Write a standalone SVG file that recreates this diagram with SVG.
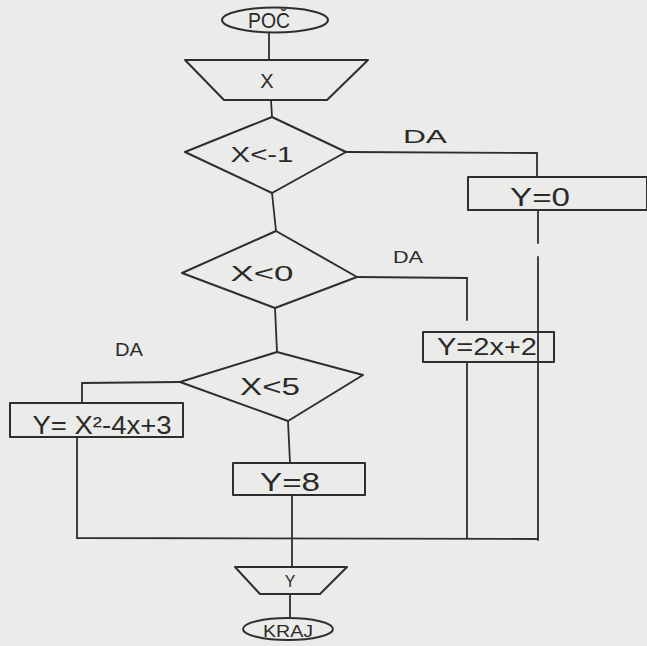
<svg xmlns="http://www.w3.org/2000/svg" width="647" height="646" viewBox="0 0 647 646">
<style>
.bg{fill:#ebebe9}
.sh{fill:none;stroke:#2e2e2e;stroke-width:2;stroke-linejoin:round;stroke-linecap:round}
.ln{fill:none;stroke:#2e2e2e;stroke-width:1.8;stroke-linecap:round}
.t{font-family:"Liberation Sans","DejaVu Sans",sans-serif;fill:#2a2a2a;text-anchor:middle}
</style>
<rect class="bg" x="0" y="0" width="647" height="646"/>
<g id="connectors">
<polyline class="ln" points="269,33 269,60"/>
<polyline class="ln" points="271,100 272,117"/>
<polyline class="ln" points="272,193 276,231"/>
<polyline class="ln" points="346,152 537,153 537,177"/>
<polyline class="ln" points="538,210 538,243"/>
<polyline class="ln" points="538,257 538,540"/>
<polyline class="ln" points="357,277 467,278 467,320"/>
<polyline class="ln" points="467,362 467,538"/>
<polyline class="ln" points="275,308 277,352"/>
<polyline class="ln" points="180,382 82,383 82,403"/>
<polyline class="ln" points="77,437 77,538 538,539"/>
<polyline class="ln" points="288,421 290,463"/>
<polyline class="ln" points="292,495 292,567"/>
<polyline class="ln" points="290,594 290,618"/>
</g>
<g id="start">
<ellipse class="sh" cx="275" cy="20" rx="53" ry="12.5"/>
<text class="t" x="269" y="28" font-size="22" textLength="42" lengthAdjust="spacingAndGlyphs">POČ</text>
</g>
<g id="input-x">
<polygon class="sh" points="185,60 368,60 327,100 224,100"/>
<text class="t" x="267" y="88" font-size="20">X</text>
</g>
<g id="dec1">
<polygon class="sh" points="185,152 272,117 346,152 272,193"/>
<text class="t" x="262" y="162" font-size="22" textLength="63" lengthAdjust="spacingAndGlyphs">X&lt;-1</text>
<text class="t" x="425" y="143" font-size="18" textLength="44" lengthAdjust="spacingAndGlyphs">DA</text>
</g>
<g id="y0">
<polygon class="sh" points="468,177 647,177 647,210 468,210"/>
<text class="t" x="540" y="206" font-size="26" textLength="60" lengthAdjust="spacingAndGlyphs">Y=0</text>
</g>
<g id="dec2">
<polygon class="sh" points="182,273 276,231 357,277 275,308"/>
<text class="t" x="262" y="281" font-size="22" textLength="63" lengthAdjust="spacingAndGlyphs">X&lt;0</text>
<text class="t" x="408" y="263" font-size="17" textLength="30" lengthAdjust="spacingAndGlyphs">DA</text>
</g>
<g id="y2x2">
<polygon class="sh" points="423,332 554,332 554,362 423,362"/>
<text class="t" x="487" y="355" font-size="23" textLength="100" lengthAdjust="spacingAndGlyphs">Y=2x+2</text>
</g>
<g id="dec3">
<polygon class="sh" points="180,382 277,352 363,375 288,421"/>
<text class="t" x="270" y="395" font-size="24" textLength="60" lengthAdjust="spacingAndGlyphs">X&lt;5</text>
<text class="t" x="129" y="356" font-size="18" textLength="28" lengthAdjust="spacingAndGlyphs">DA</text>
</g>
<g id="yquad">
<polygon class="sh" points="10,403 183,403 183,437 10,437"/>
<text class="t" x="102" y="434" font-size="25" textLength="139" lengthAdjust="spacingAndGlyphs">Y= X²-4x+3</text>
</g>
<g id="y8">
<polygon class="sh" points="233,463 365,463 365,495 233,495"/>
<text class="t" x="290" y="491" font-size="25" textLength="60" lengthAdjust="spacingAndGlyphs">Y=8</text>
</g>
<g id="output-y">
<polygon class="sh" points="235,567 347,567 320,594 260,594"/>
<text class="t" x="290" y="587" font-size="16">Y</text>
</g>
<g id="end">
<ellipse class="sh" cx="288" cy="629" rx="45" ry="11"/>
<text class="t" x="288" y="637" font-size="16" textLength="50" lengthAdjust="spacingAndGlyphs">KRAJ</text>
</g>
</svg>
